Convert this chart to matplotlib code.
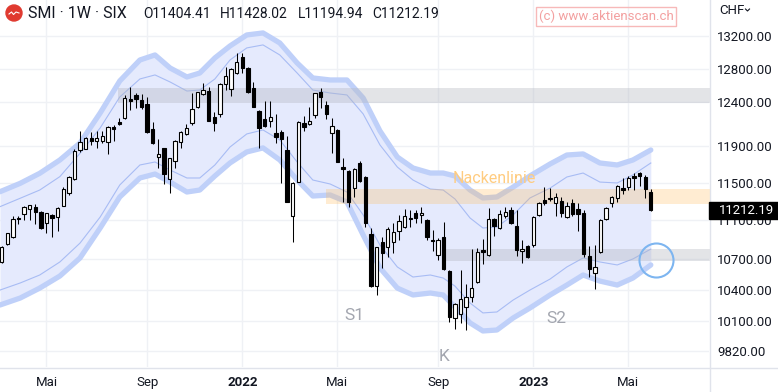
import numpy as np
import matplotlib.pyplot as plt
from matplotlib.lines import Line2D
from matplotlib.patches import Rectangle, Circle
from matplotlib.ticker import NullLocator

plt.rcParams['font.family'] = ['Roboto', 'DejaVu Sans']

# Wochenkerzen SMI, erste Kerze = Woche vom 8.3.2021
opens = [10678, 10856, 10925, 11128, 11163, 11216, 11237, 11191, 11069, 11157,
         11132, 11254, 11386, 11537, 11859, 11874, 11997, 11963, 11963, 11952,
         12115, 12171, 12217, 12437, 12488, 12429, 12379, 12092, 11785, 11878,
         11537, 11737, 11945, 12042, 12160, 12351, 12496, 12534, 12232, 12263,
         12613, 12554, 12745, 12938, 12812, 12566, 12305, 12206, 12190, 12053,
         12061, 11859, 11150, 11511, 12167, 12152, 12255, 12520, 12371, 12046,
         12084, 11674, 11627, 11439, 11715, 11566, 10959, 10441, 10877, 10829,
         10880, 10995, 11028, 11122, 11177, 11161, 11104, 10897, 10740, 10925,
         10582, 10124, 10166, 10233, 10326, 10478, 10795, 10750, 11112, 11018,
         11146, 11204, 11041, 10785, 10836, 10846, 11157, 11315, 11339, 11287,
         11305, 11139, 11280, 11216, 11180, 10735, 10562, 10778, 11111, 11287,
         11339, 11439, 11457, 11573, 11609, 11560, 11404.41]
highs = [10840, 10972, 11146, 11150, 11254, 11262, 11272, 11198, 11180, 11164,
         11244, 11450, 11573, 11867, 12073, 12008, 12065, 12073, 12073, 12130,
         12141, 12217, 12488, 12585, 12515, 12500, 12468, 12178, 11979, 11885,
         11770, 11971, 12073, 12156, 12508, 12527, 12625, 12585, 12287, 12625,
         12824, 12812, 12987, 12994, 12816, 12645, 12310, 12418, 12418, 12263,
         12084, 12020, 11504, 12187, 12247, 12351, 12515, 12573, 12418, 12224,
         12095, 11767, 11633, 11656, 11737, 11573, 11021, 10829, 10925, 11035,
         11076, 11157, 11216, 11209, 11204, 11241, 11111, 11005, 10915, 11086,
         10590, 10268, 10595, 10459, 10810, 10812, 10907, 11230, 11122, 11209,
         11244, 11244, 11214, 10897, 10846, 11146, 11297, 11450, 11445, 11386,
         11343, 11297, 11322, 11280, 11209, 10836, 10846, 11111, 11244, 11357,
         11475, 11552, 11573, 11602, 11620, 11584, 11428.02]
lows = [10661, 10846, 10921, 11059, 11104, 11101, 11062, 11013, 10966, 10931,
        10993, 11251, 11371, 11530, 11840, 11870, 11915, 11878, 11941, 11811,
        11960, 12141, 12210, 12313, 12333, 12321, 12053, 11930, 11657, 11484,
        11386, 11656, 11878, 12027, 12141, 12333, 12488, 12187, 12073, 12236,
        12546, 12480, 12737, 12745, 12508, 12344, 11878, 12122, 12122, 11934,
        11493, 11291, 10873, 11504, 12073, 12141, 12217, 12333, 12210, 11822,
        11722, 11297, 11240, 11350, 11507, 11028, 10429, 10353, 10612, 10720,
        10768, 10897, 11018, 11035, 11069, 11069, 10897, 10785, 10690, 10595,
        10092, 10024, 10080, 10010, 10284, 10468, 10655, 10732, 10935, 11007,
        11122, 11065, 10735, 10661, 10712, 10829, 11146, 11262, 11308, 11146,
        11132, 11122, 11146, 10993, 10722, 10528, 10404, 10768, 11104, 11237,
        11297, 11378, 11421, 11421, 11464, 11332, 11194.94]
closes = [10829, 10966, 11111, 11114, 11244, 11258, 11191, 11018, 11174, 11122,
          11233, 11432, 11566, 11848, 11945, 11997, 11963, 11990, 12020, 12122,
          12099, 12152, 12456, 12418, 12437, 12351, 12058, 11934, 11811, 11595,
          11767, 11960, 12058, 12103, 12325, 12520, 12546, 12190, 12167, 12613,
          12716, 12796, 12877, 12804, 12520, 12351, 12103, 12133, 12229, 12008,
          11982, 11297, 11493, 12178, 12122, 12187, 12508, 12468, 12263, 12130,
          11729, 11645, 11297, 11645, 11518, 11076, 10436, 10823, 10762, 11007,
          10983, 11090, 11148, 11111, 11120, 11177, 10933, 10884, 10897, 10602,
          10135, 10262, 10307, 10332, 10414, 10772, 10780, 11117, 11041, 11165,
          11191, 11069, 10795, 10802, 10722, 11139, 11287, 11280, 11322, 11343,
          11180, 11251, 11167, 11167, 10754, 10602, 10628, 11104, 11226, 11343,
          11464, 11424, 11548, 11548, 11573, 11428, 11212.19]

# Trendkanal, x in Wochen ab erster Kerze
band_week = [-0.3, 3.3, 6.8, 10.4, 14.0, 17.6, 21.1, 24.7, 27.4, 30.1,
             33.1, 35.4, 38.1, 40.8, 43.8, 46.7, 49.7, 52.8, 55.6, 58.7,
             61.7, 64.6, 67.6, 70.7, 73.5, 76.6, 78.9, 81.0, 83.7, 86.0,
             88.5, 91.4, 94.4, 98.0, 101.0, 103.9, 106.9, 110.0, 112.8, 116.0]
upper_outer = [11403, 11493, 11602, 11748, 11937, 12278, 12653, 12905, 12966, 12808,
               12701, 12748, 12930, 13076, 13212, 13237, 13113, 12869, 12689, 12665,
               12665, 12452, 12073, 11781, 11660, 11605, 11605, 11573, 11421, 11336,
               11347, 11453, 11573, 11704, 11803, 11815, 11715, 11693, 11748, 11859]
upper_inner = [11244, 11333, 11421, 11566, 11822, 12107, 12464, 12677, 12725, 12641,
               12534, 12546, 12677, 12905, 13052, 13089, 12966, 12748, 12546, 12511,
               12488, 12267, 11915, 11671, 11529, 11432, 11421, 11326, 11125, 11021,
               11031, 11157, 11336, 11442, 11562, 11605, 11507, 11497, 11584, 11715]
lower_inner = [10397, 10466, 10545, 10675, 10866, 11135, 11475, 11693, 11726, 11638,
               11551, 11551, 11693, 11892, 12039, 12084, 11971, 11726, 11529, 11486,
               11400, 11157, 10846, 10625, 10525, 10545, 10515, 10436, 10271, 10176,
               10185, 10300, 10397, 10505, 10625, 10715, 10675, 10645, 10705, 10805]
lower_outer = [10252, 10319, 10416, 10535, 10715, 11021, 11347, 11551, 11594, 11507,
               11400, 11421, 11573, 11715, 11837, 11882, 11748, 11529, 11357, 11368,
               11294, 10948, 10615, 10416, 10349, 10368, 10349, 10233, 10081, 10005,
               10014, 10128, 10223, 10349, 10446, 10545, 10485, 10446, 10515, 10645]

# Zonen: (Startwoche, unten, oben)
zone_resist = (20.8, 12398, 12570)
zone_neck = (57.9, 11273, 11436)
zone_support = (78.9, 10688, 10802)

price_ticks = [9820, 10100, 10400, 10700, 11100, 11500, 11900, 12400, 12800, 13200]
tick_weeks = [8, 26, 43, 60, 78, 95, 112]
tick_labels = ['Mai', 'Sep', '2022', 'Mai', 'Sep', '2023', 'Mai']

W, H = 778, 392
def fx(px):
    return px / W
def fy(py):
    return 1 - py / H

fig = plt.figure(figsize=(W / 100, H / 100), dpi=100)
ax = fig.add_axes([0, fy(367), fx(709), 367 / H])

weeks = np.arange(len(opens))
o = np.array(opens); c = np.array(closes)

# Kanal
ax.fill_between(band_week, lower_outer, upper_outer, color='#e5eafd', lw=0, zorder=1)
for b in (upper_outer, lower_outer):
    ax.plot(band_week, b, color='#bfd0f9', lw=3.8, solid_capstyle='round', zorder=2)
for b in (upper_inner, lower_inner):
    ax.plot(band_week, b, color='#a8bcf4', lw=0.8, zorder=2)

# Zonen
for (start, lo, hi), col, a in ((zone_resist, '#b2b5be', 0.36),
                                (zone_neck, '#ffb74d', 0.25),
                                (zone_support, '#b2b5be', 0.36)):
    ax.fill_between([start, 140], lo, hi, color=col, alpha=a, lw=0, zorder=3)

# Kerzen
ax.vlines(weeks, lows, highs, color='black', lw=0.75, zorder=4)
up = c >= o
ax.bar(weeks[up], (c - o)[up], bottom=o[up], width=0.6, color='white',
       edgecolor='black', lw=0.8, zorder=5)
ax.bar(weeks[~up], (o - c)[~up], bottom=c[~up], width=0.6, color='black',
       edgecolor='black', lw=0.8, zorder=5)

# Beschriftungen
ax.text(80.6, 11550, 'Nackenlinie', color='#ffcc80', fontsize=11.5, va='center', zorder=6)
ax.text(63.1, 10152, 'S1', color='#a3a6af', fontsize=12.5, ha='center', va='center', zorder=6)
ax.text(99.2, 10121, 'S2', color='#a3a6af', fontsize=12.5, ha='center', va='center', zorder=6)
ax.text(79.1, 9772, 'K', color='#a3a6af', fontsize=12.5, ha='center', va='center', zorder=6)
ax.plot(117.0, 10690, marker='o', ms=24.5, mfc='none', mec='#7db5f0', mew=1.5, zorder=6)

ax.set_yscale('log')
ax.set_ylim(9672, 13653)
ax.set_xlim(-0.3, 126.4)
ax.yaxis.set_minor_locator(NullLocator())
ax.yaxis.tick_right()
ax.set_yticks(price_ticks, [f'{p:.2f}' for p in price_ticks])
ax.set_xticks(tick_weeks, tick_labels)
for lab in ax.get_xticklabels():
    if lab.get_text().startswith('20'):
        lab.set_fontweight('bold')
ax.tick_params(axis='y', length=0, pad=5.8, labelsize=9.5, labelcolor='#131722')
ax.tick_params(axis='x', length=0, pad=6.5, labelsize=9.5, labelcolor='#131722')
ax.grid(True, color='#eff1f5', lw=1)
ax.set_axisbelow(True)
for s in ax.spines.values():
    s.set_visible(False)

# Rahmenlinien
fig.add_artist(Line2D([0, 1], [fy(367.5)] * 2, color='#e0e3eb', lw=1))
fig.add_artist(Line2D([fx(709.5)] * 2, [0, 1], color='#e0e3eb', lw=1))

# Kopfzeile
fig.add_artist(Circle((0.14, 3.92 - 0.13), 0.08, transform=fig.dpi_scale_trans,
                      color='#e03a30'))
fig.add_artist(Line2D([0.09, 0.115, 0.135, 0.16, 0.19], [3.78, 3.80, 3.775, 3.80, 3.79],
                      transform=fig.dpi_scale_trans, color='white', lw=0.8))
fig.text(fx(28.3), fy(13), 'SMI · 1W · SIX', fontsize=11.5, color='#131722', va='center')
ohlc = ['O11404.41', 'H11428.02', 'L11194.94', 'C11212.19']
for px, s in zip([143.3, 220, 297.7, 372.7], ohlc):
    fig.text(fx(px), fy(13.5), s, fontsize=10, color='#131722', va='center')
fig.text(fx(606), fy(16.7), '(c) www.aktienscan.ch', fontsize=9.5, color='#f3a0a0',
         ha='center', va='center',
         bbox=dict(boxstyle='square,pad=0.2', fc='none', ec='#f7b9b9', lw=1))
fig.text(fx(719.3), fy(10), 'CHF', fontsize=9.5, color='#131722', va='center')
fig.add_artist(Line2D([fx(745.5), fx(747.5), fx(749.5)], [fy(9), fy(11), fy(9)],
                      color='#131722', lw=0.8))

# letzter Kurs
fig.add_artist(Rectangle((fx(709), fy(219)), fx(777.7) - fx(709), (219 - 201.7) / H,
                         transform=fig.transFigure, color='black', zorder=5))
fig.text(fx(718.5), fy(210.3), f'{closes[-1]:.2f}', fontsize=9.5, color='white',
         va='center', zorder=6)

fig.savefig('out.png', dpi=100)
